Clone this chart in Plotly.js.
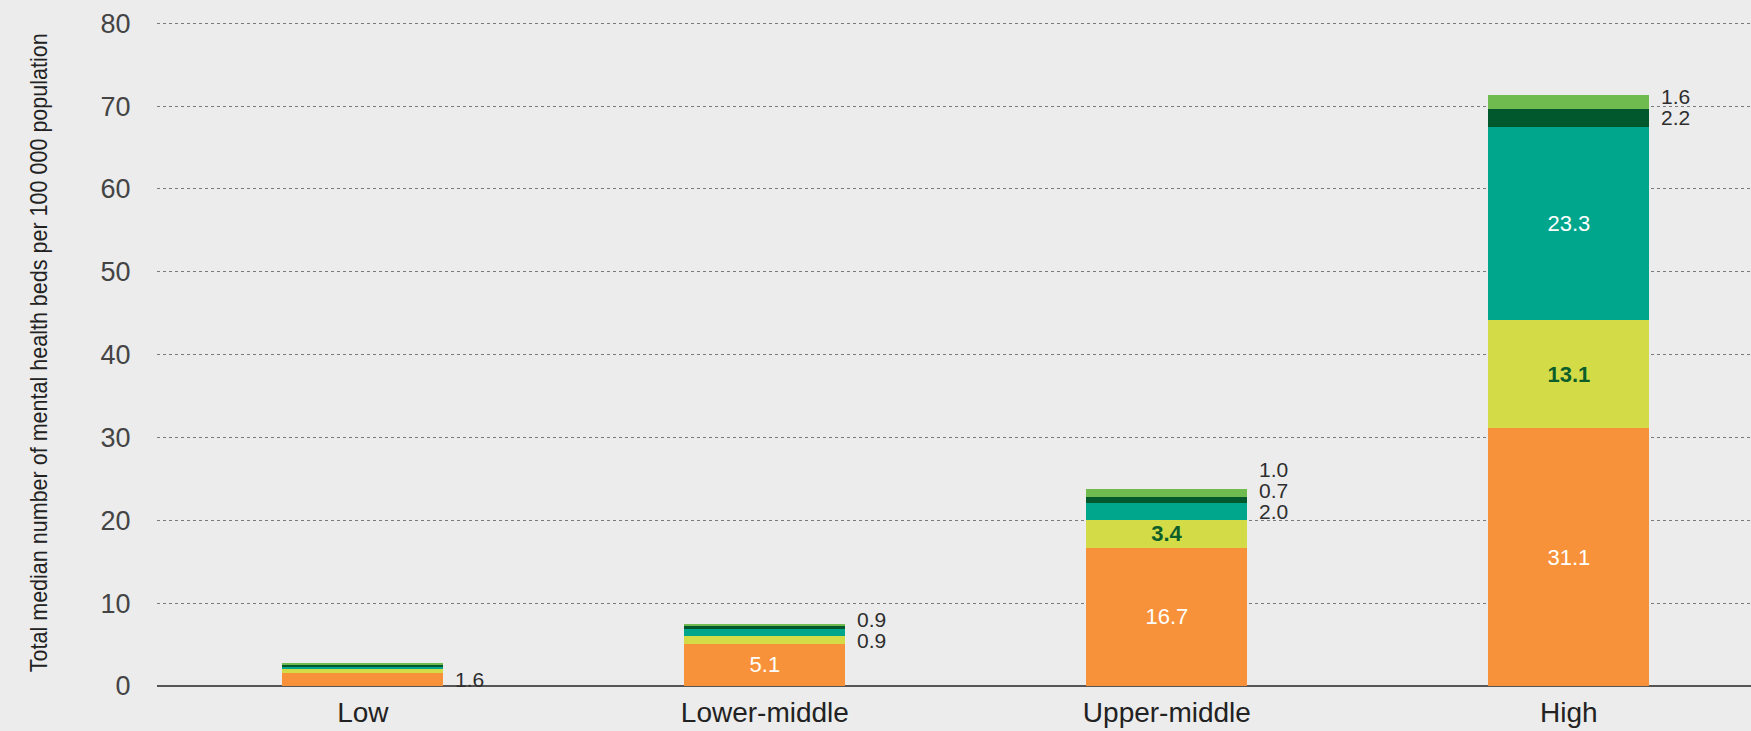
<!DOCTYPE html>
<html>
<head>
<meta charset="utf-8">
<script src="https://cdn.plot.ly/plotly-3.0.1.min.js"></script>
<style>html,body{margin:0;padding:0;background:#ececec;}#chart{width:1751px;height:731px;}</style>
</head>
<body>
<div id="chart"></div>
<script>
// Income groups (x categories)
const categories = ["Low", "Lower-middle", "Upper-middle", "High"];

// Median beds per 100 000 population, stacked bottom to top
const orangeBeds = [1.6, 5.1, 16.7, 31.1];
const yellowBeds = [0.5, 0.9, 3.4, 13.1];
const tealBeds = [0.2, 0.9, 2.0, 23.3];
const darkGreenBeds = [0.2, 0.3, 0.7, 2.2];
const lightGreenBeds = [0.3, 0.3, 1.0, 1.6];

const yTicks = [0, 10, 20, 30, 40, 50, 60, 70, 80];
const yTitle = "Total median number of mental health beds per 100 000 population";

const series = [
  {name: "Segment 1", values: orangeBeds, color: "#f7923a", textColor: "#ffffff", bold: false},
  {name: "Segment 2", values: yellowBeds, color: "#d3db47", textColor: "#0b5e2a", bold: true},
  {name: "Segment 3", values: tealBeds, color: "#00a68c", textColor: "#ffffff", bold: false},
  {name: "Segment 4", values: darkGreenBeds, color: "#00582c", textColor: "#ffffff", bold: false},
  {name: "Segment 5", values: lightGreenBeds, color: "#6fbb4f", textColor: "#ffffff", bold: false}
];

const MIN_PRINTED = 0.7;   // smaller segments carry no number
const MIN_INSIDE = 3;      // segments at least this tall get the number inside
const BAR_WIDTH = 0.4;
const FONT = "'Liberation Sans', Arial, Helvetica, sans-serif";
const TITLE_LENGTH = 639;  // px length of the condensed axis title

const margin = {l: 157, r: 0, t: 20, b: 45};
const yRange = [0, 80.4];

const traces = series.map(s => ({
  type: "bar",
  name: s.name,
  x: categories.map((c, i) => i),
  y: s.values,
  width: BAR_WIDTH,
  marker: {color: s.color, line: {width: 0}},
  text: s.values.map(v => (v >= MIN_INSIDE ? (s.bold ? "<b>" + v.toFixed(1) + "</b>" : v.toFixed(1)) : "")),
  textposition: "inside",
  insidetextanchor: "middle",
  constraintext: "none",
  textangle: 0,
  textfont: {family: FONT, size: 22, color: s.textColor},
  hovertemplate: "%{x}: %{y}<extra>" + s.name + "</extra>",
  showlegend: false
}));

// Outside labels, to the right of each bar, stacked upward
const annotations = [];
const LABEL_STEP = 21;
categories.forEach((cat, i) => {
  let base = 0;
  let firstMid = null;
  let k = 0;
  series.forEach(s => {
    const v = s.values[i];
    const mid = base + v / 2;
    base += v;
    if (v >= MIN_PRINTED && v < MIN_INSIDE) {
      if (firstMid === null) firstMid = mid;
      annotations.push({
        x: i + BAR_WIDTH / 2, y: firstMid, xref: "x", yref: "y",
        xanchor: "left", yanchor: "middle", xshift: 10, yshift: LABEL_STEP * k,
        text: v.toFixed(1), showarrow: false,
        font: {family: FONT, size: 21, color: "#2e2e2e"}
      });
      k++;
    }
  });
});

// Y axis title (condensed afterwards to the reference length)
annotations.push({
  x: 0, y: 0.5, xref: "paper", yref: "paper",
  xanchor: "center", yanchor: "middle", xshift: -119,
  textangle: -90, showarrow: false, text: yTitle,
  font: {family: FONT, size: 24, color: "#222222"}
});

const layout = {
  width: 1751, height: 731,
  margin: margin,
  paper_bgcolor: "#ececec",
  plot_bgcolor: "#ececec",
  barmode: "stack",
  font: {family: FONT},
  xaxis: {
    range: [-0.512, 3.453],
    tickmode: "array",
    tickvals: categories.map((c, i) => i),
    ticktext: categories,
    showgrid: false, zeroline: false, showline: false,
    ticks: "outside", ticklen: 1, tickcolor: "rgba(0,0,0,0)",
    tickfont: {family: FONT, size: 28, color: "#222222"},
    fixedrange: true
  },
  yaxis: {
    range: yRange,
    tickmode: "array",
    tickvals: yTicks,
    ticktext: yTicks.map(String),
    showgrid: true, gridcolor: "#7a7a7a", gridwidth: 1, griddash: "dot",
    zeroline: true, zerolinecolor: "#555555", zerolinewidth: 2,
    showline: false,
    ticks: "outside", ticklen: 20, tickcolor: "rgba(0,0,0,0)",
    tickfont: {family: FONT, size: 27, color: "#444444"},
    fixedrange: true
  },
  annotations: annotations
};

function condenseTitle() {
  const texts = document.querySelectorAll("#chart text.annotation-text");
  texts.forEach(t => {
    if (t.textContent === yTitle) {
      t.setAttribute("textLength", TITLE_LENGTH);
      t.setAttribute("lengthAdjust", "spacingAndGlyphs");
    }
  });
}

Plotly.newPlot("chart", traces, layout, {displayModeBar: false}).then(condenseTitle);
document.getElementById("chart").on && document.getElementById("chart").on("plotly_afterplot", condenseTitle);
</script>
</body>
</html>
